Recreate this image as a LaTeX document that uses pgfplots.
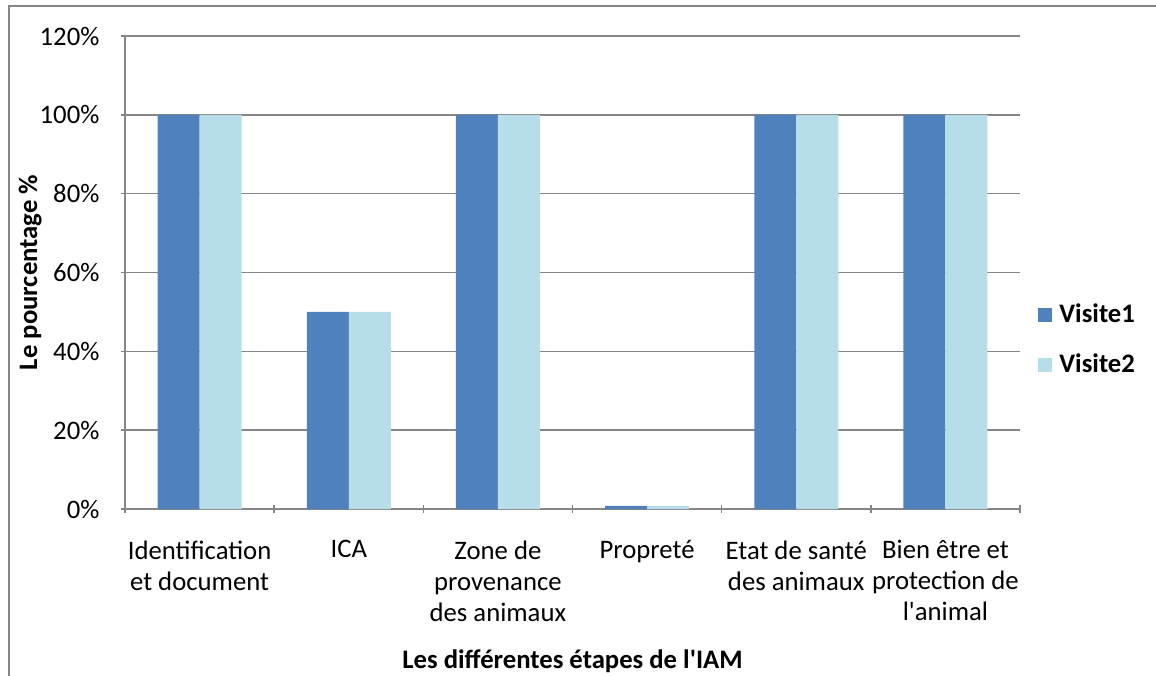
\documentclass[border=0pt]{standalone}
\usepackage{fontspec}
\setmainfont{Carlito}
\usepackage{pgfplots}
\pgfplotsset{compat=1.18}

\definecolor{visiteA}{RGB}{79,129,189}
\definecolor{visiteB}{RGB}{183,221,232}
\definecolor{axisgray}{RGB}{134,134,134}

\begin{document}
\fontsize{7.6}{8.8}\selectfont
\begin{tikzpicture}[font=\fontsize{7.6}{8.8}\selectfont]
\useasboundingbox (0,0) rectangle (11.56,6.75);
% outer chart frame (cropped on the right and bottom)
\draw[axisgray, line width=0.02cm] (0.09,-0.1) -- (0.09,6.69) -- (11.7,6.69);
\begin{axis}[
    at={(1.25cm,1.66cm)}, anchor=south west,
    scale only axis, width=8.95cm, height=4.73cm,
    ybar=0pt, bar width=0.42cm,
    xmin=-0.5, xmax=5.5,
    ymin=0, ymax=120,
    xtick={-0.5,0.5,...,5.5},
    x tick label as interval,
    xticklabels={{Identification\\et document},{ICA},{Zone de\\provenance\\des animaux},{Propreté},{Etat de santé\\des animaux},{Bien être et\\protection de\\l\textquotesingle animal}},
    ytick={0,20,...,120},
    yticklabels={0\%,20\%,40\%,60\%,80\%,100\%,120\%},
    tick align=outside, major tick length=0.08cm,
    tick style={axisgray, line width=0.015cm},
    axis x line=bottom, axis y line=left,
    axis line style={axisgray, line width=0.015cm, -},
    ymajorgrids, grid style={axisgray, line width=0.015cm},
    xticklabel style={align=center, anchor=north, yshift=-0.18cm, font=\fontsize{7.6}{8.8}\selectfont},
    yticklabel style={xshift=-0.12cm, font=\fontsize{7.6}{8.8}\selectfont},
    every axis y label/.style={at={(rel axis cs:-0.106,0.5)}, rotate=90, anchor=center, font=\bfseries\fontsize{7.6}{8.8}\selectfont},
    every axis x label/.style={at={(rel axis cs:0.5,-0.322)}, anchor=center, font=\bfseries\fontsize{7.6}{8.8}\selectfont},
    ylabel={Le pourcentage \%},
    xlabel={Les différentes étapes de l\textquotesingle IAM},
    legend style={at={(1.008,0.357)}, anchor=west, draw=none, fill=none,
        font=\bfseries\fontsize{7.6}{8.8}\selectfont, row sep=0.13cm},
    legend cell align=left,
]
\addplot[fill=visiteA, draw=none,
    legend image code/.code={\fill[visiteA] (0cm,-0.07cm) rectangle (0.14cm,0.07cm);}]
    coordinates {(0,100) (1,50) (2,100) (3,0.8) (4,100) (5,100)};
\addlegendentry{Visite1}
\addplot[fill=visiteB, draw=none,
    legend image code/.code={\fill[visiteB] (0cm,-0.07cm) rectangle (0.14cm,0.07cm);}]
    coordinates {(0,100) (1,50) (2,100) (3,0.8) (4,100) (5,100)};
\addlegendentry{Visite2}
\end{axis}
\end{tikzpicture}
\end{document}
